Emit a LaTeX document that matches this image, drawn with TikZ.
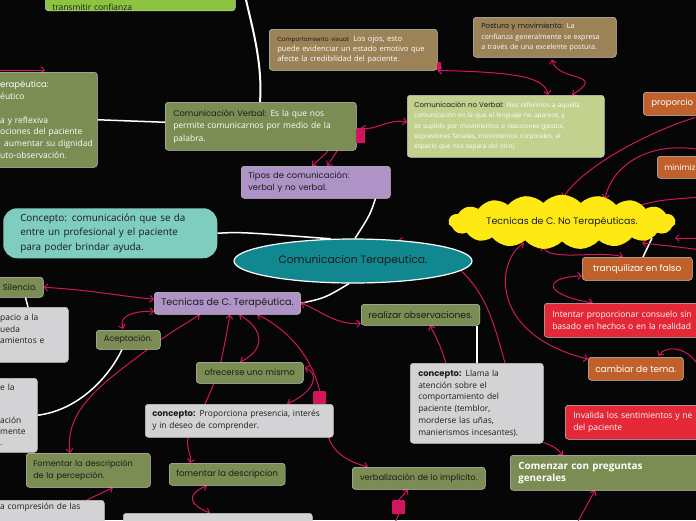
\documentclass[tikz,border=0pt]{standalone}
\usepackage{fontspec}
\setmainfont{Open Sans}
\newfontfamily\handfont{Poppins}
\usetikzlibrary{positioning,calc,shapes.geometric,shapes.symbols,arrows.meta}
\definecolor{MapBack}{HTML}{060606}
\definecolor{MapLime}{HTML}{8CC43F}
\definecolor{MapOlive}{HTML}{7B8D52}
\definecolor{MapPale}{HTML}{C3D18E}
\definecolor{MapBrown}{HTML}{9B8257}
\definecolor{MapLilac}{HTML}{AE93C7}
\definecolor{MapTeal}{HTML}{11878F}
\definecolor{MapMint}{HTML}{7ECDBE}
\definecolor{MapGrey}{HTML}{D3D3D5}
\definecolor{MapOrange}{HTML}{C0602A}
\definecolor{MapRed}{HTML}{E42838}
\definecolor{MapYellow}{HTML}{FFE914}
\definecolor{MapRose}{HTML}{D0165D}
\definecolor{MapInk}{HTML}{1C1C1C}
\pgfdeclarelayer{back}
\pgfdeclarelayer{links}
\pgfsetlayers{back,links,main}
\tikzset{
  box/.style={rounded corners=3pt, draw=white!78!black, line width=0.5pt, anchor=north west,
    inner xsep=7pt, inner ysep=0pt, align=left, text=white, font=\fontsize{8.5}{12.5}\selectfont},
  limeBox/.style={box, fill=MapLime, text=MapInk},
  oliveBox/.style={box, fill=MapOlive},
  paleBox/.style={box, fill=MapPale},
  brownBox/.style={box, fill=MapBrown},
  lilacBox/.style={box, fill=MapLilac},
  greyBox/.style={box, fill=MapGrey, text=MapInk},
  orangeBox/.style={box, fill=MapOrange, font=\handfont\fontsize{9}{10}\selectfont},
  redBox/.style={box, fill=MapRed},
  handLabel/.style={text=MapInk, align=center, font=\handfont\fontsize{8.5}{10}\selectfont},
  pinkSquare/.style={anchor=north west, fill=MapRose, rounded corners=1pt, inner sep=0pt},
  tree/.style={draw=white, line width=1.5pt},
  link/.style={draw=MapRose, line width=1pt}
}
\begin{document}
\begin{tikzpicture}[x=1pt,y=-1pt,>={Straight Barb[length=3.5pt,width=7pt]}]
  \useasboundingbox (0,0) rectangle (696,520);
  \begin{pgfonlayer}{back}
    \fill[MapBack] (0,0) rectangle (696,520);
  \end{pgfonlayer}

  % upper branch
  \node[limeBox, anchor=south west, minimum width=190pt, text width=176pt, font=\fontsize{8.5}{11}\selectfont]
    (trust) at (45,11) {\rule{0pt}{36pt}transmitir confianza};
  \node[oliveBox, minimum width=101pt, minimum height=95pt, inner xsep=4pt, text width=93pt,
    font=\fontsize{8.5}{11.8}\selectfont] (selfcare) at (-4,72)
    {{\handfont erapéutica:}\\ éutico\\ \mbox{}\\ a y reflexiva\\ ociones del paciente\\
     \mbox{\hspace*{4pt}aumentar su dignidad}\\ uto-observación.};
  \node[oliveBox, minimum width=191pt, minimum height=48pt, inner xsep=8pt, text width=175pt] (verbal) at (165,102)
    {{\color{MapInk}\handfont\fontsize{8.3}{12.5}\selectfont Comunicación Verbal:} Es la que nos\\
     permite comunicarnos por medio de la\\ palabra.};
  \node[pinkSquare, minimum width=9pt, minimum height=15pt] (verbalMark) at (356,128) {};
  \node[brownBox, minimum width=168pt, minimum height=41pt, inner xsep=8pt, text width=152pt,
    font=\fontsize{7.6}{10}\selectfont] (visual) at (269,29)
    {{\color{MapInk}\handfont\fontsize{5.9}{10}\selectfont Comportamiento visual:} Los ojos, esto\\
     puede evidenciar un estado emotivo que\\ afecte la credibilidad del paciente.};
  \node[pinkSquare, minimum width=4pt, minimum height=8pt] (visualMark) at (437,62) {};
  \node[brownBox, minimum width=143pt, minimum height=40pt, inner xsep=8pt, text width=127pt,
    font=\fontsize{7.1}{10.3}\selectfont] (posture) at (473,17)
    {{\color{MapInk}\handfont\fontsize{7.3}{10.3}\selectfont Postura y movimiento:} La\\
     confianza generalmente se expresa\\ a través de una excelente postura.};
  \node[paleBox, minimum width=197pt, minimum height=62pt, inner xsep=7pt, text width=183pt,
    font=\fontsize{6.45}{10.3}\selectfont] (nonverbal) at (407,95)
    {{\color{MapInk}\handfont\fontsize{7}{10.3}\selectfont Comunicación no Verbal:} Nos referimos a aquella\\
     comunicación en la que el lenguaje no aparece, y\\ es suplido por movimientos o reacciones (gestos,\\
     expresiones faciales, movimientos corporales, el\\ espacio que nos separa del otro).};
  \node[lilacBox, minimum width=149pt, minimum height=32pt, inner xsep=7pt, text width=135pt, text=MapInk,
    font=\handfont\fontsize{8.4}{12}\selectfont] (kinds) at (241,166)
    {Tipos de comunicación:\\ verbal y no verbal.};

  % centre
  \node[ellipse, draw=white, line width=1.2pt, fill=MapTeal, minimum width=238pt, minimum height=44pt,
    inner sep=0pt, text=MapInk, font=\handfont\fontsize{10.7}{12}\selectfont] (core) at (353,261)
    {Comunicacion Terapeutica.};
  \node[box, draw=none, fill=MapMint, rounded corners=14pt, minimum width=212pt, minimum height=50pt,
    inner xsep=17pt, text width=180pt, text=MapInk, font=\fontsize{9.9}{14.5}\selectfont] (definition) at (3,208)
    {Concepto: comunicación que se da\\ entre un profesional y el paciente\\ para poder brindar ayuda.};

  % therapeutic techniques
  \node[lilacBox, handLabel, minimum width=138pt, minimum height=22pt,
    font=\handfont\fontsize{9.6}{11}\selectfont] (therapeutic) at (154,292) {Tecnicas de C. Terapéutica.};
  \node[oliveBox, handLabel, minimum width=117pt, minimum height=21pt,
    font=\handfont\fontsize{9.1}{11}\selectfont] (observe) at (361,304) {realizar observaciones.};
  \node[greyBox, minimum width=133pt, minimum height=80pt, inner xsep=8pt, text width=117pt,
    font=\fontsize{8.4}{11.8}\selectfont] (observeDef) at (410,363)
    {{\handfont\bfseries concepto:} Llama la\\ atención sobre el\\ comportamiento del\\ paciente (temblor,\\
     morderse las uñas,\\ manierismos incesantes).};
  \node[oliveBox, minimum width=220pt, minimum height=35pt, inner xsep=8pt, text width=204pt,
    font=\bfseries\fontsize{9.9}{12}\selectfont] (openq) at (510,455) {Comenzar con preguntas\\ generales};
  \node[oliveBox, handLabel, minimum width=68pt, minimum height=20pt, inner xsep=6pt, text width=56pt,
    align=right] (silence) at (-25,277) {Silencio.};
  \node[greyBox, minimum width=72pt, minimum height=55pt, inner xsep=4pt, text width=64pt,
    font=\fontsize{8.4}{11.7}\selectfont] (silenceDef) at (-4,307) {pacio a la\\ ueda\\ amientos e\\ \mbox{}};
  \node[greyBox, minimum width=41pt, minimum height=74pt, inner xsep=4pt, text width=33pt,
    font=\fontsize{8.4}{11}\selectfont] (acceptDef) at (-4,378) {e la\\ \mbox{}\\ \mbox{}\\ ación\\ mente\\ .};
  \node[oliveBox, handLabel, minimum width=64pt, minimum height=19pt,
    font=\handfont\fontsize{8.2}{10}\selectfont] (accept) at (96,330) {Aceptación.};
  \node[oliveBox, handLabel, minimum width=124pt, minimum height=34pt, inner xsep=7pt, text width=110pt,
    align=left, font=\handfont\fontsize{8.1}{12.5}\selectfont] (perception) at (26,453)
    {Fomentar la descripción\\ de la percepción.};
  \node[greyBox, minimum width=108pt, minimum height=36pt, inner xsep=4pt, text width=100pt,
    font=\fontsize{8.4}{12}\selectfont] (perceptionDef) at (-4,500) {a compresión de las\\ \mbox{}\\ \mbox{}};
  \node[greyBox, minimum width=189pt, minimum height=30pt] (describeDef) at (123,513) {};
  \node[oliveBox, handLabel, minimum width=107pt, minimum height=21pt] (offerself) at (196,362) {ofrecerse uno mismo};
  \node[pinkSquare, minimum width=13pt, minimum height=13pt] (offerMark) at (313,391) {};
  \node[greyBox, minimum width=188pt, minimum height=33pt, inner xsep=7pt, text width=174pt,
    font=\fontsize{8.4}{12}\selectfont] (offerDef) at (145,404)
    {{\handfont\bfseries concepto:} Proporciona presencia, interés\\ y in deseo de comprender.};
  \node[oliveBox, handLabel, minimum width=114pt, minimum height=22pt] (describe) at (169,463) {fomentar la descripcion};
  \node[oliveBox, handLabel, minimum width=133pt, minimum height=22pt,
    font=\handfont\fontsize{8.3}{10}\selectfont] (implicit) at (352,467) {verbalización de lo implícito.};
  \node[pinkSquare, minimum width=13pt, minimum height=14pt] (implicitMark) at (392,500) {};

  % non-therapeutic techniques
  \node[cloud, cloud puffs=19, cloud puff arc=95, aspect=5.4, fill=MapYellow, minimum width=227pt,
    minimum height=42pt, inner sep=0pt, text=MapInk, font=\handfont\fontsize{9.5}{11}\selectfont]
    (nontherapeutic) at (562,222) {Tecnicas de C. No Terapéuticas.};
  \node[orangeBox, minimum width=70pt, minimum height=23pt, inner xsep=8pt, text width=54pt,
    font=\handfont\fontsize{8.6}{10}\selectfont] (provide) at (643,92) {proporcio};
  \node[orangeBox, minimum width=60pt, minimum height=22pt, inner xsep=7pt, text width=46pt,
    font=\handfont\fontsize{8}{10}\selectfont] (minimize) at (657,156) {minimiz};
  \node[orangeBox, minimum width=110pt, minimum height=23pt, align=center] (falsecalm) at (582,257) {tranquilizar en falso};
  \node[redBox, minimum width=170pt, minimum height=34pt, inner xsep=8pt, text width=154pt] (falsecomfort) at (544,303)
    {Intentar proporcionar consuelo sin\\ basado en hechos o en la realidad};
  \node[orangeBox, minimum width=90pt, minimum height=23pt, align=center] (topicswap) at (588,357) {cambiar de tema.};
  \node[redBox, minimum width=160pt, minimum height=34pt, inner xsep=8pt, text width=144pt] (dismiss) at (565,405)
    {Invalida los sentimientos y ne\\ del paciente};

  % free ends beyond the frame
  \coordinate (topEdge) at (245,-5);
  \coordinate (leftEdge) at (-5,70);
  \coordinate (bottomEdgeA) at (394,525);
  \coordinate (bottomEdgeB) at (576,525);
  \coordinate (rightEdgeA) at (702,150);
  \coordinate (rightEdgeB) at (702,197);
  \coordinate (rightEdgeC) at (702,238);
  \coordinate (rightEdgeD) at (702,250);
  \coordinate (rightEdgeE) at (702,372);

  \begin{pgfonlayer}{links}
    % tree lines
    \draw[tree] (selfcare.east) -- ($(verbal.west)+(0,-4)$);
    \draw[tree, line width=2pt] ($(verbal.north west)+(95,0)$) .. controls (263,60) and (250,20) .. (topEdge);
    \draw[tree] ($(kinds.south east)+(-15,0)$) .. controls (370,215) .. (core.85);
    \draw[tree] (definition.east) .. controls (240,232) .. (core.135);
    \draw[tree] (core.260) .. controls (325,298) .. (therapeutic.east);
    \draw[tree] (observe.south east -| observeDef.north) -- (observeDef.north);
    \draw[tree] ($(silence.south east)+(-18,0)$) -- ($(silenceDef.north west)+(32,0)$);
    \draw[tree] (acceptDef.east) .. controls (80,410) and (110,375) .. ($(accept.south west)+(26,0)$);
    \draw[tree] ($(nontherapeutic.center)+(90,16)$) -- ($(falsecalm.north west)+(61,0)$);
    % links
    \draw[link,->] (leftEdge) -- ($(selfcare.north west)+(49,-2)$);
    \draw[link,<->] (verbalMark.north) .. controls (375,131) and (390,118) .. ($(nonverbal.west)+(0,-4)$);
    \draw[link,->] ($(verbal.south east)+(-28,0)$) .. controls (322,157) .. ($(kinds.north west)+(71,0)$);
    \draw[link,->] ($(verbal.south east)+(-19,0)$) .. controls (333,158) .. ($(kinds.north west)+(86,0)$);
    \draw[link,<->] (visual.south east) .. controls (520,72) and (545,78) .. ($(nonverbal.north west)+(141,0)$);
    \draw[link,<->] ($(posture.south west)+(79,2)$) .. controls (557,82) and (608,72) .. ($(nonverbal.north west)+(165,0)$);
    \draw[link,<->] (silence.east) .. controls (90,290) and (120,296) .. ($(therapeutic.west)+(0,-4)$);
    \draw[link,<->] ($(accept.north)+(-5,-1)$) .. controls (118,315) and (135,311) .. ($(therapeutic.west)+(0,8)$);
    \draw[link,->] (accept.east) .. controls (175,330) .. ($(therapeutic.south west)+(46,0)$);
    \draw[link,->] ($(accept.south east)+(-13,0)$) .. controls (100,385) and (65,410) .. ($(perception.north west)+(44,0)$);
    \draw[link,->] ($(perceptionDef.north west)+(91,0)$) -- ($(perception.south west)+(87,0)$);
    \draw[link,<->] ($(therapeutic.south west)+(85,0)$) .. controls (265,330) and (265,350) .. ($(offerself.north west)+(44,0)$);
    \draw[link,->] ($(offerDef.north west)+(60,0)$) .. controls (220,370) .. ($(therapeutic.south west)+(76,0)$);
    \draw[link,->] (offerMark.north) .. controls (310,350) and (280,325) .. ($(therapeutic.south west)+(103,0)$);
    \draw[link,<->] ($(offerself.east)+(1,-5)$) .. controls (318,372) and (318,390) .. ($(offerDef.north west)+(142,0)$);
    \draw[link,->] ($(offerDef.south west)+(43,0)$) .. controls (186,450) and (192,455) .. ($(describe.north west)+(21,0)$);
    \draw[link,->] ($(offerDef.south east)+(-5,0)$) .. controls (335,455) and (350,462) .. ($(implicit.north west)+(16,0)$);
    \draw[link,<->] ($(describe.south west)+(38,0)$) .. controls (185,495) and (190,505) .. ($(describeDef.north west)+(87,0)$);
    \draw[link,->] (implicitMark.north) -- ($(implicit.south west)+(56,0)$);
    \draw[link] (implicitMark.south) -- (bottomEdgeA);
    \draw[link,<->] (therapeutic.east) .. controls (320,310) and (335,325) .. ($(observe.south west)+(0,-2)$);
    \draw[link,->] ($(observeDef.north west)+(36,0)$) .. controls (440,345) .. ($(observe.south west)+(69,0)$);
    \draw[link,->] ($(observeDef.north west)+(95,0)$) .. controls (490,310) and (480,260) .. (core.25);
    \draw[link,->] ($(observeDef.south east)+(0,-1)$) .. controls (555,447) .. ($(openq.north west)+(53,0)$);
    \draw[link,->] (bottomEdgeB) -- ($(openq.south west)+(85,0)$);
    \draw[link,<->] ($(nontherapeutic.center)+(-19,24)$) .. controls (548,262) and (600,250) .. ($(falsecalm.north west)+(41,0)$);
    \draw[link,<->] ($(nontherapeutic.center)+(-38,21)$) .. controls (495,262) and (490,335) .. ($(topicswap.north west)+(0,2)$);
    \draw[link,<->] ($(falsecalm.west)+(0,7)$) .. controls (540,278) and (545,295) .. ($(falsecomfort.north west)+(49,0)$);
    \draw[link,->] ($(provide.south west)+(52,2)$) .. controls (640,135) and (580,170) .. ($(nontherapeutic.center)+(1,-24)$);
    \draw[link,->] (rightEdgeA) .. controls (650,140) and (612,165) .. ($(nontherapeutic.center)+(43,-23)$);
    \draw[link] ($(nontherapeutic.center)+(71,-15)$) .. controls (660,200) .. (rightEdgeB);
    \draw[link,->] (rightEdgeC) -- ($(nontherapeutic.center)+(113,16)$);
    \draw[link,->] (rightEdgeD) .. controls (670,246) .. ($(nontherapeutic.center)+(80,21)$);
    \draw[link,->] (rightEdgeE) .. controls (690,345) and (665,345) .. ($(topicswap.north east)+(-25,-1)$);
  \end{pgfonlayer}
\end{tikzpicture}
\end{document}
